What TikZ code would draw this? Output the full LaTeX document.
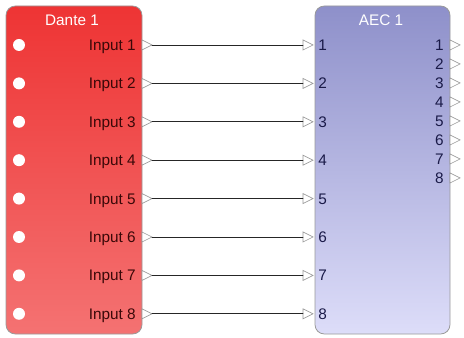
\documentclass[tikz,border=0pt]{standalone}
\usepackage{fontspec}
\setmainfont{Liberation Sans}
\definecolor{danteTop}{HTML}{EE3434}
\definecolor{danteBot}{HTML}{F47272}
\definecolor{aecTop}{HTML}{8E90CA}
\definecolor{aecBot}{HTML}{DDDDF9}
\definecolor{rimGray}{HTML}{9A9A9A}
\definecolor{labRed}{HTML}{3A0808}
\definecolor{labBlue}{HTML}{1A1A48}
\tikzset{
  block/.style={draw=rimGray, line width=0.6pt, rounded corners=7},
  port/.style={draw=rimGray, fill=white, line width=0.5pt, line join=miter},
  wire/.style={draw=black!85, line width=0.7pt},
  lab/.style={font=\fontsize{11.5}{12}\selectfont, inner sep=0pt}
}
\begin{document}
\begin{tikzpicture}[x=0.75pt, y=-0.75pt, line cap=round]

% --- Parameters (pixel grid of the reference) ---
\def\ytop{45}      % y of first row
\def\dy{38.4}      % row pitch of the connections
\def\dyout{19}     % pitch of the AEC outputs
\def\base{5.5}     % baseline offset of the labels

\useasboundingbox (0,0) rectangle (464,338);

% --- Dante block ---
\shade[block, top color=danteTop, bottom color=danteBot] (6,6) rectangle (142,334);
\node[lab, text=white, anchor=base] (dantetitle) at (72,26) {Dante 1};

% --- AEC block ---
\shade[block, top color=aecTop, bottom color=aecBot] (315,6) rectangle (450,334);
\node[lab, text=white, anchor=base] (aectitle) at (381,26) {AEC 1};

% --- Rows: dot, label, ports and wire ---
\foreach \i in {1,...,8} {
  \pgfmathsetmacro{\y}{\ytop+(\i-1)*\dy}
  \fill[white] (19,\y) circle (6);
  \node[lab, text=labRed, anchor=base east] (dlab\i) at (136,\y+\base) {Input \i};
  \draw[port] (142,\y-5) -- (152,\y) -- (142,\y+5) -- cycle;
  \coordinate (dout\i) at (152,\y);
  \draw[port] (303,\y-5) -- (313,\y) -- (303,\y+5) -- cycle;
  \coordinate (ain\i) at (303,\y);
  \node[lab, text=labBlue, anchor=base west] (alab\i) at (318,\y+\base) {\i};
  \draw[wire] (dout\i) -- (ain\i);
}

% --- AEC outputs ---
\foreach \i in {1,...,8} {
  \pgfmathsetmacro{\y}{\ytop+(\i-1)*\dyout}
  \node[lab, text=labBlue, anchor=base east] (aout\i) at (444,\y+\base) {\i};
  \draw[port] (450,\y-5) -- (460,\y) -- (450,\y+5) -- cycle;
}

\end{tikzpicture}
\end{document}
